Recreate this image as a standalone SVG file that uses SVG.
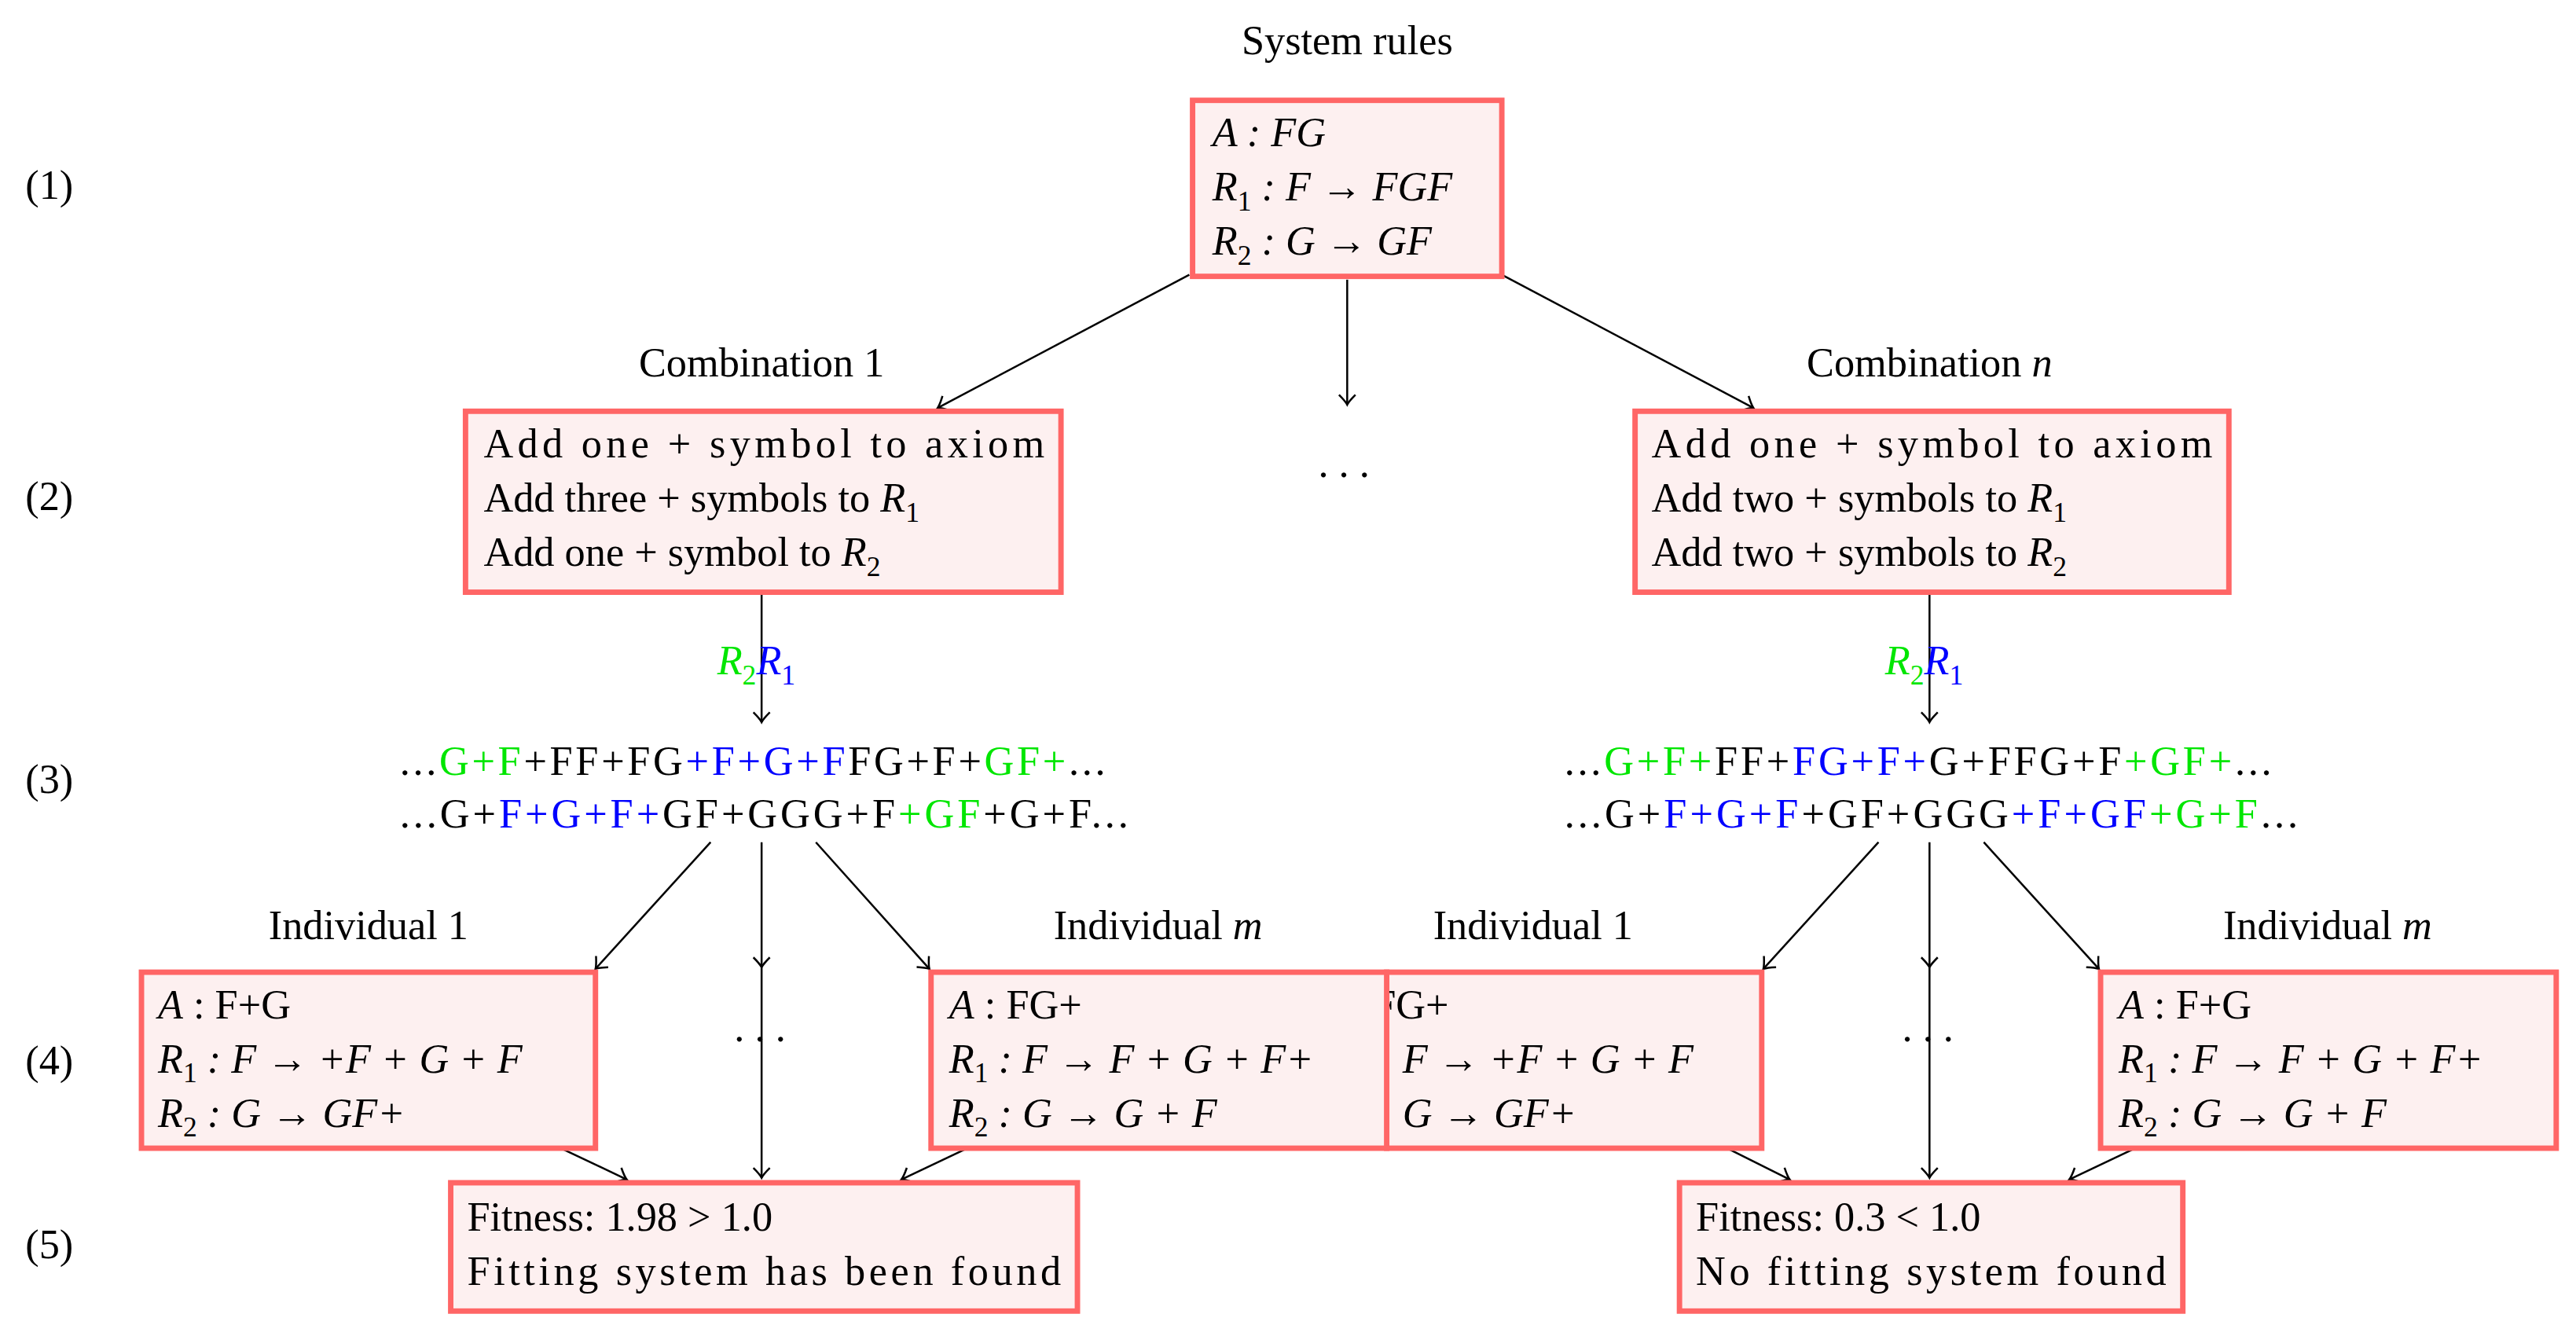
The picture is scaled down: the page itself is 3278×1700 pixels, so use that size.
<svg xmlns="http://www.w3.org/2000/svg" width="3278" height="1700" viewBox="0 0 3278 1700">
<style>
text{font-family:"Liberation Serif","DejaVu Serif",serif;font-size:25px;fill:#000}
.i{font-style:italic}
.s{font-size:17px}
.g{fill:#00e600}
.b{fill:#0000ff}
.box{fill:#fdf0f0;stroke:#ff6666;stroke-width:3.3}
.c line{stroke:#000;stroke-width:1.2;marker-end:url(#ah)}
</style>
<defs>
<marker id="ah" viewBox="-8 -6 10 12" refX="0" refY="0" markerWidth="10" markerHeight="12" markerUnits="userSpaceOnUse" orient="auto">
<path d="M-6,-5 Q-2,-1 0,0 Q-2,1 -6,5" fill="none" stroke="#000" stroke-width="1.2"/>
</marker>
</defs>
<rect width="3278" height="1700" fill="#fff"/>
<g transform="scale(2.0932)">
<g id="levels">
<text x="30" y="121" text-anchor="middle">(1)</text>
<text x="30" y="310" text-anchor="middle">(2)</text>
<text x="30" y="482" text-anchor="middle">(3)</text>
<text x="30" y="653" text-anchor="middle">(4)</text>
<text x="30" y="765" text-anchor="middle">(5)</text>
</g>
<g class="c" id="connectors">
<line x1="723" y1="167" x2="570" y2="248"/>
<line x1="819" y1="170" x2="819" y2="246"/>
<line x1="913" y1="167" x2="1066" y2="248"/>
<line x1="463" y1="360" x2="463" y2="439"/>
<line x1="1173" y1="360" x2="1173" y2="439"/>
<line x1="432" y1="512" x2="362" y2="589"/>
<line x1="463" y1="512" x2="463" y2="588"/>
<line x1="496" y1="512" x2="565" y2="589"/>
<line x1="1142" y1="512" x2="1072" y2="589"/>
<line x1="1173" y1="512" x2="1173" y2="588"/>
<line x1="1206" y1="512" x2="1276" y2="589"/>
<line x1="341" y1="698" x2="381" y2="717"/>
<line x1="463" y1="588" x2="463" y2="716"/>
<line x1="588" y1="698" x2="548" y2="717"/>
<line x1="1050" y1="698" x2="1088" y2="717"/>
<line x1="1173" y1="588" x2="1173" y2="716"/>
<line x1="1298" y1="698" x2="1258" y2="717"/>
</g>
<g id="system">
<text x="819" y="33" text-anchor="middle">System rules</text>
<rect class="box" x="725" y="61" width="188" height="107"/>
<text x="737" y="89" class="i">A : FG</text>
<text x="737" y="122"><tspan class="i">R</tspan><tspan class="s" dy="6">1</tspan><tspan class="i" dy="-6"> : F → FGF</tspan></text>
<text x="737" y="155"><tspan class="i">R</tspan><tspan class="s" dy="6">2</tspan><tspan class="i" dy="-6"> : G → GF</tspan></text>
</g>
<text x="817" y="290" text-anchor="middle">. . .</text>
<g id="comb1">
<text x="463" y="229" text-anchor="middle">Combination 1</text>
<rect class="box" x="283" y="250" width="362" height="110"/>
<text x="294" y="278" textLength="341">Add one + symbol to axiom</text>
<text x="294" y="311">Add three + symbols to <tspan class="i">R</tspan><tspan class="s" dy="6">1</tspan></text>
<text x="294" y="344">Add one + symbol to <tspan class="i">R</tspan><tspan class="s" dy="6">2</tspan></text>
</g>
<g id="combn">
<text x="1173" y="229" text-anchor="middle">Combination <tspan class="i">n</tspan></text>
<rect class="box" x="994" y="250" width="361" height="110"/>
<text x="1004" y="278" textLength="341">Add one + symbol to axiom</text>
<text x="1004" y="311">Add two + symbols to <tspan class="i">R</tspan><tspan class="s" dy="6">1</tspan></text>
<text x="1004" y="344">Add two + symbols to <tspan class="i">R</tspan><tspan class="s" dy="6">2</tspan></text>
</g>
<g id="labels">
<text x="436" y="410"><tspan class="i g">R</tspan><tspan class="s g" dy="6">2</tspan><tspan class="i b" dy="-6">R</tspan><tspan class="s b" dy="6">1</tspan></text>
<text x="1146" y="410"><tspan class="i g">R</tspan><tspan class="s g" dy="6">2</tspan><tspan class="i b" dy="-6">R</tspan><tspan class="s b" dy="6">1</tspan></text>
</g>
<g id="strings1">
<text x="243" y="471" textLength="429">...<tspan class="g">G+F</tspan>+FF+FG<tspan class="b">+F+G+F</tspan>FG+F+<tspan class="g">GF+</tspan>...</text>
<text x="243" y="503" textLength="443">...G+<tspan class="b">F+G+F+</tspan>GF+GGG+F<tspan class="g">+GF</tspan>+G+F...</text>
</g>
<g id="stringsn">
<text x="951" y="471" textLength="430">...<tspan class="g">G+F+</tspan>FF+<tspan class="b">FG+F+</tspan>G+FFG+F<tspan class="g">+GF+</tspan>...</text>
<text x="951" y="503" textLength="446">...G+<tspan class="b">F+G+F</tspan>+GF+GGG<tspan class="b">+F+GF</tspan><tspan class="g">+G+F</tspan>...</text>
</g>
<g id="ind1a">
<text x="224" y="571" text-anchor="middle">Individual 1</text>
<rect class="box" x="86" y="591" width="276" height="107"/>
<text x="96" y="619"><tspan class="i">A</tspan> : F+G</text>
<text x="96" y="652"><tspan class="i">R</tspan><tspan class="s" dy="6">1</tspan><tspan class="i" dy="-6"> : F → +F + G + F</tspan></text>
<text x="96" y="685"><tspan class="i">R</tspan><tspan class="s" dy="6">2</tspan><tspan class="i" dy="-6"> : G → GF+</tspan></text>
</g>
<g id="ind1b">
<text x="932" y="571" text-anchor="middle">Individual 1</text>
<rect class="box" x="843" y="591" width="228" height="107"/>
<text x="800" y="619"><tspan class="i">A</tspan> : FG+</text>
<text x="808" y="652"><tspan class="i">R</tspan><tspan class="s" dy="6">1</tspan><tspan class="i" dy="-6"> : F → +F + G + F</tspan></text>
<text x="808" y="685"><tspan class="i">R</tspan><tspan class="s" dy="6">2</tspan><tspan class="i" dy="-6"> : G → GF+</tspan></text>
</g>
<g id="indma">
<text x="704" y="571" text-anchor="middle">Individual <tspan class="i">m</tspan></text>
<rect class="box" x="566" y="591" width="277" height="107"/>
<text x="577" y="619"><tspan class="i">A</tspan> : FG+</text>
<text x="577" y="652"><tspan class="i">R</tspan><tspan class="s" dy="6">1</tspan><tspan class="i" dy="-6"> : F → F + G + F+</tspan></text>
<text x="577" y="685"><tspan class="i">R</tspan><tspan class="s" dy="6">2</tspan><tspan class="i" dy="-6"> : G → G + F</tspan></text>
</g>
<g id="indmb">
<text x="1415" y="571" text-anchor="middle">Individual <tspan class="i">m</tspan></text>
<rect class="box" x="1277" y="591" width="277" height="107"/>
<text x="1288" y="619"><tspan class="i">A</tspan> : F+G</text>
<text x="1288" y="652"><tspan class="i">R</tspan><tspan class="s" dy="6">1</tspan><tspan class="i" dy="-6"> : F → F + G + F+</tspan></text>
<text x="1288" y="685"><tspan class="i">R</tspan><tspan class="s" dy="6">2</tspan><tspan class="i" dy="-6"> : G → G + F</tspan></text>
</g>
<text x="462" y="633" text-anchor="middle">. . .</text>
<text x="1172" y="633" text-anchor="middle">. . .</text>
<g id="fit1">
<rect class="box" x="274" y="719" width="381" height="78"/>
<text x="284" y="748">Fitness: 1.98 &gt; 1.0</text>
<text x="284" y="781" textLength="361">Fitting system has been found</text>
</g>
<g id="fitn">
<rect class="box" x="1021" y="719" width="306" height="78"/>
<text x="1031" y="748">Fitness: 0.3 &lt; 1.0</text>
<text x="1031" y="781" textLength="286">No fitting system found</text>
</g>
</g>
</svg>
